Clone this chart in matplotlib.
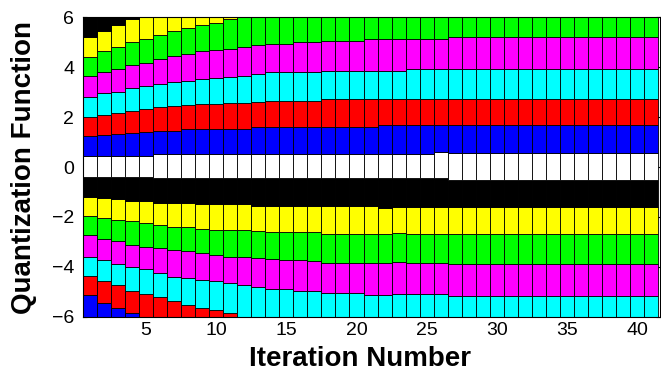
import numpy as np
import matplotlib
matplotlib.use("Agg")
import matplotlib.pyplot as plt

plt.rcParams['font.family'] = ['Liberation Sans', 'DejaVu Sans']

iterations = list(range(1, 42))

# Quantizer boundaries per iteration (bottom to top), values clipped to the [-6, 6] view
b01 = [-5.14, -5.44, -5.65, -5.86, -6, -6, -6, -6, -6, -6, -6, -6, -6, -6, -6, -6, -6, -6, -6, -6, -6,
       -6, -6, -6, -6, -6, -6, -6, -6, -6, -6, -6, -6, -6, -6, -6, -6, -6, -6, -6, -6]
b02 = [-4.37, -4.58, -4.74, -4.96, -5.09, -5.22, -5.38, -5.52, -5.65, -5.73, -5.86, -6, -6, -6, -6, -6,
       -6, -6, -6, -6, -6, -6, -6, -6, -6, -6, -6, -6, -6, -6, -6, -6, -6, -6, -6, -6, -6, -6, -6, -6, -6]
b03 = [-3.59, -3.73, -3.89, -4.02, -4.10, -4.26, -4.39, -4.45, -4.53, -4.58, -4.66, -4.74, -4.79, -4.87,
       -4.87, -4.96, -4.96, -5.04, -5.04, -5.04, -5.12, -5.12, -5.10, -5.10, -5.10, -5.10, -5.17, -5.17,
       -5.17, -5.17, -5.17, -5.17, -5.17, -5.17, -5.17, -5.17, -5.17, -5.17, -5.17, -5.17, -5.17]
b04 = [-2.74, -2.90, -2.95, -3.11, -3.19, -3.25, -3.33, -3.38, -3.46, -3.54, -3.59, -3.62, -3.65, -3.67,
       -3.73, -3.73, -3.75, -3.83, -3.83, -3.83, -3.83, -3.83, -3.81, -3.86, -3.86, -3.86, -3.88, -3.88,
       -3.88, -3.88, -3.88, -3.88, -3.88, -3.88, -3.88, -3.88, -3.88, -3.88, -3.88, -3.88, -3.88]
b05 = [-1.96, -2.04, -2.12, -2.18, -2.26, -2.34, -2.39, -2.42, -2.47, -2.52, -2.52, -2.52, -2.55, -2.60,
       -2.60, -2.60, -2.60, -2.68, -2.68, -2.68, -2.68, -2.68, -2.66, -2.67, -2.67, -2.67, -2.67, -2.67,
       -2.67, -2.67, -2.67, -2.67, -2.67, -2.67, -2.67, -2.67, -2.67, -2.67, -2.67, -2.67, -2.67]
b06 = [-1.19, -1.25, -1.28, -1.35, -1.35, -1.43, -1.43, -1.43, -1.48, -1.48, -1.48, -1.48, -1.56, -1.56,
       -1.56, -1.56, -1.56, -1.56, -1.56, -1.56, -1.56, -1.64, -1.62, -1.62, -1.62, -1.62, -1.62, -1.62,
       -1.62, -1.62, -1.62, -1.62, -1.62, -1.62, -1.62, -1.62, -1.62, -1.62, -1.62, -1.62, -1.62]
b07 = [-0.39, -0.39, -0.39, -0.39, -0.39, -0.45, -0.45, -0.45, -0.45, -0.45, -0.45, -0.45, -0.45, -0.45,
       -0.45, -0.45, -0.45, -0.45, -0.45, -0.45, -0.45, -0.45, -0.45, -0.45, -0.45, -0.45, -0.53, -0.53,
       -0.53, -0.53, -0.53, -0.53, -0.53, -0.53, -0.53, -0.53, -0.53, -0.53, -0.53, -0.53, -0.53]
b08 = [0.45, 0.45, 0.45, 0.45, 0.45, 0.53, 0.53, 0.53, 0.53, 0.53, 0.53, 0.53, 0.53, 0.53, 0.53, 0.53,
       0.53, 0.53, 0.53, 0.53, 0.53, 0.53, 0.53, 0.53, 0.53, 0.60, 0.58, 0.58, 0.58, 0.58, 0.58, 0.58,
       0.58, 0.58, 0.58, 0.58, 0.58, 0.58, 0.58, 0.58, 0.58]
b09 = [1.24, 1.30, 1.32, 1.38, 1.40, 1.46, 1.46, 1.51, 1.54, 1.54, 1.54, 1.54, 1.60, 1.60, 1.60, 1.60,
       1.60, 1.60, 1.60, 1.60, 1.60, 1.67, 1.67, 1.67, 1.67, 1.67, 1.67, 1.67, 1.67, 1.67, 1.67, 1.67,
       1.67, 1.67, 1.67, 1.67, 1.67, 1.67, 1.67, 1.67, 1.67]
b10 = [2.02, 2.10, 2.18, 2.23, 2.31, 2.39, 2.45, 2.47, 2.53, 2.53, 2.58, 2.58, 2.61, 2.66, 2.66, 2.66,
       2.66, 2.72, 2.72, 2.72, 2.72, 2.72, 2.72, 2.72, 2.72, 2.72, 2.73, 2.73, 2.73, 2.73, 2.73, 2.73,
       2.73, 2.73, 2.73, 2.73, 2.73, 2.73, 2.73, 2.73, 2.73]
b11 = [2.79, 2.95, 3.02, 3.15, 3.25, 3.33, 3.41, 3.46, 3.51, 3.57, 3.62, 3.65, 3.73, 3.80, 3.80, 3.80,
       3.80, 3.86, 3.86, 3.86, 3.86, 3.86, 3.86, 3.94, 3.94, 3.94, 3.94, 3.94, 3.94, 3.94, 3.94, 3.94,
       3.94, 3.94, 3.94, 3.94, 3.94, 3.94, 3.94, 3.94, 3.94]
b12 = [3.65, 3.81, 3.94, 4.08, 4.16, 4.32, 4.45, 4.53, 4.64, 4.69, 4.74, 4.80, 4.88, 4.93, 4.93, 5.00,
       5.00, 5.06, 5.06, 5.06, 5.14, 5.14, 5.14, 5.14, 5.14, 5.14, 5.23, 5.23, 5.23, 5.23, 5.23, 5.23,
       5.23, 5.23, 5.23, 5.23, 5.23, 5.23, 5.23, 5.23, 5.23]
b13 = [4.42, 4.64, 4.80, 5.01, 5.12, 5.29, 5.44, 5.57, 5.71, 5.76, 5.92, 6, 6, 6, 6, 6, 6, 6, 6, 6, 6,
       6, 6, 6, 6, 6, 6, 6, 6, 6, 6, 6, 6, 6, 6, 6, 6, 6, 6, 6, 6]
b14 = [5.20, 5.47, 5.69, 5.92, 6, 6, 6, 6, 6, 6, 6, 6, 6, 6, 6, 6, 6, 6, 6, 6, 6,
       6, 6, 6, 6, 6, 6, 6, 6, 6, 6, 6, 6, 6, 6, 6, 6, 6, 6, 6, 6]

y_low, y_high = -6, 6
segment_colors = ['#0000ff', '#ff0000', '#00ffff', '#ff00ff', '#00ff00', '#ffff00', '#000000', '#ffffff',
                  '#0000ff', '#ff0000', '#00ffff', '#ff00ff', '#00ff00', '#ffff00', '#000000']

x_ticks = [5, 10, 15, 20, 25, 30, 35, 40]
y_ticks = [-6, -4, -2, 0, 2, 4, 6]

fig = plt.figure(figsize=(6.61, 3.71), dpi=100)
ax = fig.add_axes([82.7 / 661, 1 - 316.7 / 371, (660.5 - 82.7) / 661, (316.7 - 17.3) / 371])

n = len(iterations)
edges = [np.full(n, float(y_low))] + [np.array(b, dtype=float) for b in
         (b01, b02, b03, b04, b05, b06, b07, b08, b09, b10, b11, b12, b13, b14)] + [np.full(n, float(y_high))]
x = np.array(iterations)
for k in range(len(edges) - 1):
    bottom = edges[k]
    height = edges[k + 1] - edges[k]
    ax.bar(x, height, bottom=bottom, width=1.0, color=segment_colors[k],
           edgecolor='black', linewidth=0.6, zorder=2)

ax.set_xlim(0.5, 41.65)
ax.set_ylim(y_low, y_high)
ax.set_xticks(x_ticks)
ax.set_yticks(y_ticks)
ax.set_axisbelow(True)
ax.tick_params(axis='x', length=0, pad=4, labelsize=14)
ax.tick_params(axis='y', which='both', left=True, right=True, direction='in', length=3,
               pad=6, labelsize=14)
for s in ax.spines.values():
    s.set_linewidth(0.8)
    s.set_color('black')

ax.set_xlabel('Iteration Number', fontsize=20, fontweight='bold')
ax.set_ylabel('Quantization Function', fontsize=20, fontweight='bold')
ax.xaxis.set_label_coords((360 - 82.7) / (660.5 - 82.7), -(346 - 316.7) / 299.4)
ax.yaxis.set_label_coords(-(82.7 - 37) / (660.5 - 82.7), 0.5)

fig.savefig('out.png', dpi=100)
